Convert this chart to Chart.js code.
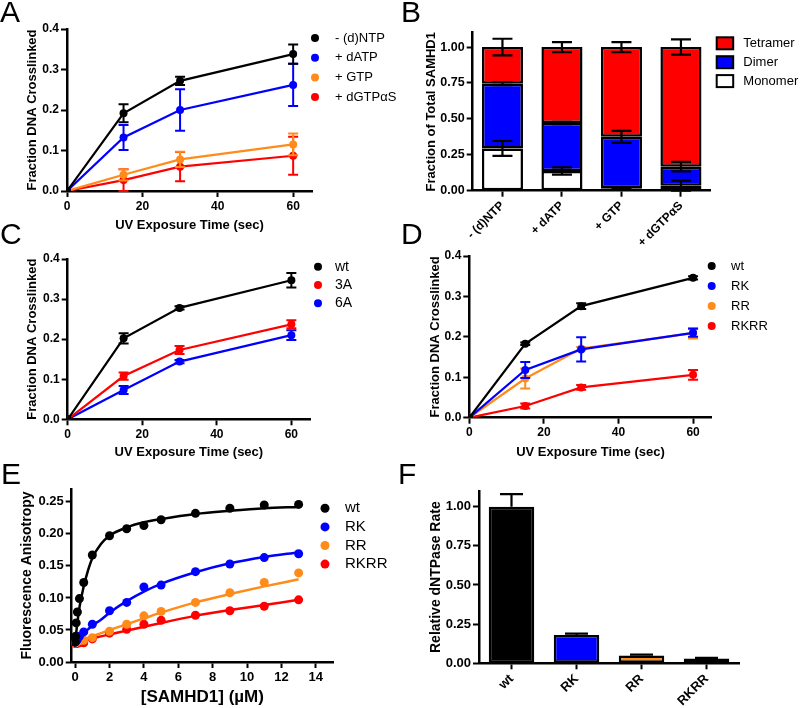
<!DOCTYPE html>
<html>
<head>
<meta charset="utf-8">
<script src="https://cdn.jsdelivr.net/npm/chart.js@4.4.0/dist/chart.umd.min.js"></script>
<style>
    body { margin: 0; background: #fff; }
    #figure { position: relative; width: 800px; height: 708px; overflow: hidden; background: #fff; }
    #figure canvas { position: absolute; }
    .panel-letter { position: absolute; font-family: 'Liberation Sans', Arial, sans-serif; font-size: 30px; line-height: 30px; color: #000; }
</style>
</head>
<body>
<div id="figure">
    <canvas id="chart-a"></canvas>
    <canvas id="chart-b"></canvas>
    <canvas id="chart-c"></canvas>
    <canvas id="chart-d"></canvas>
    <canvas id="chart-e"></canvas>
    <canvas id="chart-f"></canvas>
    <div class="panel-letter" style="left:0px;top:-3px">A</div>
    <div class="panel-letter" style="left:401px;top:-3px">B</div>
    <div class="panel-letter" style="left:0px;top:219px">C</div>
    <div class="panel-letter" style="left:401px;top:219px">D</div>
    <div class="panel-letter" style="left:1px;top:459px">E</div>
    <div class="panel-letter" style="left:398px;top:459px">F</div>
</div>
<script>
// ---- Data ----
const uvTimes = [0, 15, 30, 60];
const uvTicks = [0, 20, 40, 60];
const crosslinkTicks = [0, 0.1, 0.2, 0.3, 0.4];
const fractionTicks = [0, 0.25, 0.5, 0.75, 1];

// A: nucleotide effect on crosslinking
const ntpLabels = ['- (d)NTP', '+ dATP', '+ GTP', '+ dGTPαS'];
const aNoNtp = [0, 0.192, 0.272, 0.338];
const aNoNtpErr = [0, 0.022, 0.01, 0.024];
const aDatp = [0, 0.132, 0.2, 0.262];
const aDatpErr = [0, 0.031, 0.051, 0.052];
const aGtp = [0, 0.04, 0.078, 0.115];
const aGtpErr = [0, 0.014, 0.019, 0.027];
const aDgtp = [0, 0.027, 0.06, 0.087];
const aDgtpErr = [0, 0.027, 0.036, 0.047];

// B: oligomeric state
const bMonomer = [0.294, 0.137, 0.017, 0.035];
const bMonomerErr = [0.052, 0.025, 0.003, 0.035];
const bDimer = [0.451, 0.335, 0.358, 0.132];
const bDimerErr = [0.01, 0.008, 0.042, 0.033];
const bTetramer = [0.255, 0.528, 0.625, 0.833];
const bTetramerErr = [0.058, 0.035, 0.035, 0.053];

// C: wt vs 3A / 6A
const cLabels = ['wt', '3A', '6A'];
const cWt = [0, 0.202, 0.278, 0.347];
const cWtErr = [0, 0.013, 0.004, 0.018];
const c3A = [0, 0.108, 0.173, 0.237];
const c3AErr = [0, 0.009, 0.01, 0.01];
const c6A = [0, 0.073, 0.144, 0.21];
const c6AErr = [0, 0.01, 0.004, 0.012];

// D: wt vs RK / RR / RKRR
const mutantLabels = ['wt', 'RK', 'RR', 'RKRR'];
const dWt = [0, 0.183, 0.276, 0.346];
const dWtErr = [0, 0.003, 0.007, 0.004];
const dRK = [0, 0.118, 0.169, 0.21];
const dRKErr = [0, 0.02, 0.03, 0.01];
const dRR = [0, 0.097, 0.171, 0.209];
const dRRErr = [0, 0.025, 0.004, 0.013];
const dRKRR = [0, 0.029, 0.075, 0.106];
const dRKRRErr = [0, 0.006, 0.006, 0.012];

// E: anisotropy titration
const samhd1Conc = [0, 0.03, 0.06, 0.13, 0.25, 0.5, 1, 2, 3, 4, 5, 7, 9, 11, 13];
const eWt = [0.031, 0.040, 0.061, 0.078, 0.099, 0.124, 0.167, 0.197, 0.208, 0.213, 0.222, 0.232, 0.240, 0.245, 0.246];
const eRK = [0.031, 0.032, 0.033, 0.035, 0.040, 0.047, 0.059, 0.080, 0.093, 0.117, 0.120, 0.141, 0.153, 0.163, 0.169];
const eRR = [0.030, 0.030, 0.031, 0.032, 0.033, 0.034, 0.038, 0.048, 0.059, 0.072, 0.079, 0.093, 0.108, 0.124, 0.139];
const eRKRR = [0.029, 0.029, 0.029, 0.029, 0.030, 0.030, 0.036, 0.045, 0.051, 0.059, 0.065, 0.073, 0.080, 0.087, 0.097];
// fitted curves
const fitConc = [0, 0.25, 0.5, 0.75, 1, 1.5, 2, 3, 4, 5, 7, 9, 11, 13];
const eWtFit = [0.032, 0.085, 0.118, 0.143, 0.162, 0.184, 0.197, 0.210, 0.218, 0.223, 0.231, 0.236, 0.240, 0.242];
const eRKFit = [0.032, 0.039, 0.045, 0.051, 0.057, 0.066, 0.077, 0.095, 0.110, 0.122, 0.140, 0.154, 0.164, 0.171];
const eRRFit = [0.030, 0.033, 0.035, 0.038, 0.040, 0.045, 0.050, 0.059, 0.068, 0.077, 0.093, 0.106, 0.118, 0.129];
const eRKRRFit = [0.029, 0.031, 0.033, 0.035, 0.037, 0.040, 0.043, 0.049, 0.055, 0.061, 0.072, 0.081, 0.089, 0.097];
const concTicks = [0, 2, 4, 6, 8, 10, 12, 14];
const anisoTicks = [0, 0.05, 0.1, 0.15, 0.2, 0.25];

// F: dNTPase activity
const fRate = [1.0, 0.18, 0.05, 0.03];
const fRateErr = [0.08, 0.01, 0.005, 0.004];

const BLACK = '#000000';
const BLUE = '#0000ff';
const ORANGE = '#ff8c1a';
const RED = '#ff0000';
const FONT = "'Liberation Sans', Arial, sans-serif";

Chart.defaults.font.family = FONT;
Chart.defaults.color = '#000';

// error bars drawn right after each dataset
const errorBarPlugin = {
    id: 'errorBars',
    afterDatasetDraw(chart, args, opts) {
        const ds = chart.data.datasets[args.index];
        if (!ds.errors) return;
        const ctx = chart.ctx;
        const yScale = chart.scales.y;
        const half = (opts.capWidth || 10) / 2;
        ctx.save();
        ctx.strokeStyle = opts.color || ds.borderColor;
        ctx.lineWidth = opts.lineWidth || 2;
        args.meta.data.forEach((el, i) => {
            const err = ds.errors[i];
            if (!err) return;
            const errPx = yScale.getPixelForValue(0) - yScale.getPixelForValue(err);
            const top = el.y - errPx;
            const bottom = opts.upOnly ? el.y : el.y + errPx;
            ctx.beginPath();
            ctx.moveTo(el.x, top);
            ctx.lineTo(el.x, bottom);
            ctx.moveTo(el.x - half, top);
            ctx.lineTo(el.x + half, top);
            if (!opts.upOnly) {
                ctx.moveTo(el.x - half, bottom);
                ctx.lineTo(el.x + half, bottom);
            }
            ctx.stroke();
        });
        ctx.restore();
    }
};

// GraphPad-like legend on the right
const sideLegendPlugin = {
    id: 'sideLegend',
    afterDraw(chart, args, opts) {
        if (!opts.labels) return;
        const ctx = chart.ctx;
        ctx.save();
        ctx.font = opts.fontSize + 'px ' + FONT;
        ctx.textBaseline = 'middle';
        opts.labels.forEach((label, i) => {
            const y = opts.y + i * opts.gap;
            if (opts.boxes) {
                ctx.fillStyle = opts.colors[i];
                ctx.fillRect(opts.x, y - 6, 16.5, 12);
                ctx.strokeStyle = '#000';
                ctx.lineWidth = 2;
                ctx.strokeRect(opts.x, y - 6, 16.5, 12);
            } else {
                ctx.fillStyle = opts.colors[i];
                ctx.beginPath();
                ctx.arc(opts.x, y, opts.radius || 4, 0, Math.PI * 2);
                ctx.fill();
            }
            ctx.fillStyle = '#000';
            ctx.fillText(label, opts.textX, y);
        });
        ctx.restore();
    }
};

function frame(rect, plot, yTitleX, yTitleSize) {
    const padLeft = yTitleX - yTitleSize * 0.6 - rect.left;
    return {
        padding: { left: padLeft, top: plot.top - rect.top, right: rect.left + rect.width - plot.right, bottom: 0 },
        yWidth: plot.left - rect.left - padLeft,
        xHeight: rect.top + rect.height - plot.bottom
    };
}

function axis(o) {
    const scale = {
        type: o.type || 'linear',
        border: { display: true, color: '#000', width: 2.5 },
        grid: { drawOnChartArea: false, tickLength: 6, tickWidth: 2, tickColor: '#000', offset: false },
        ticks: { color: '#000', padding: 2, font: { size: o.tickSize, weight: 'bold' } },
        title: { display: !!o.title, text: o.title, color: '#000', padding: 0, font: { size: o.titleSize, weight: 'bold' } },
        afterFit: s => {
            if (o.width) s.width = o.width;
            if (o.height) s.height = o.height;
        }
    };
    if (scale.type === 'linear') {
        scale.min = o.min;
        scale.max = o.max;
        scale.afterBuildTicks = s => { s.ticks = o.ticks.map(v => ({ value: v })); };
        scale.ticks.callback = v => o.decimals ? v.toFixed(o.decimals) : String(v);
    } else {
        scale.offset = true;
        scale.ticks.minRotation = 45;
        scale.ticks.maxRotation = 45;
        scale.ticks.autoSkip = false;
    }
    if (o.stacked) scale.stacked = true;
    return scale;
}

function lineSet(label, xs, ys, errs, color, radius) {
    return {
        label: label,
        data: xs.map((x, i) => ({ x: x, y: ys[i] })),
        errors: errs,
        borderColor: color,
        backgroundColor: color,
        borderWidth: 2.2,
        pointRadius: radius,
        pointBorderWidth: 0,
        pointBackgroundColor: color,
        tension: 0
    };
}

function makeChart(id, rect, cfg) {
    const canvas = document.getElementById(id);
    canvas.width = rect.width;
    canvas.height = rect.height;
    canvas.style.left = rect.left + 'px';
    canvas.style.top = rect.top + 'px';
    cfg.options.responsive = false;
    cfg.options.animation = false;
    cfg.options.events = [];
    cfg.plugins = [errorBarPlugin, sideLegendPlugin];
    return new Chart(canvas.getContext('2d'), cfg);
}

function uvChart(id, rect, plot, yTitleX, datasets, legend) {
    const f = frame(rect, plot, yTitleX, 13);
    return makeChart(id, rect, {
        type: 'line',
        data: { datasets: datasets },
        options: {
            layout: { padding: f.padding },
            plugins: {
                legend: { display: false },
                tooltip: { enabled: false },
                errorBars: { capWidth: 10, lineWidth: 2 },
                sideLegend: legend
            },
            scales: {
                x: axis({ min: 0, max: 65, ticks: uvTicks, tickSize: 12, title: 'UV Exposure Time (sec)', titleSize: 13, height: f.xHeight }),
                y: axis({ min: 0, max: 0.4, ticks: crosslinkTicks, decimals: 1, tickSize: 12, title: 'Fraction DNA Crosslinked', titleSize: 13, width: f.yWidth })
            }
        }
    });
}

// ---- Panel A ----
uvChart('chart-a', { left: 0, top: 0, width: 400, height: 233 }, { left: 67, top: 29, right: 312, bottom: 191 }, 32, [
    lineSet(ntpLabels[0], uvTimes, aNoNtp, aNoNtpErr, BLACK, 4),
    lineSet(ntpLabels[1], uvTimes, aDatp, aDatpErr, BLUE, 4),
    lineSet(ntpLabels[2], uvTimes, aGtp, aGtpErr, ORANGE, 4),
    lineSet(ntpLabels[3], uvTimes, aDgtp, aDgtpErr, RED, 4)
], { labels: ntpLabels, colors: [BLACK, BLUE, ORANGE, RED], x: 315, textX: 335, y: 38, gap: 19.7, fontSize: 13 });

// ---- Panel C ----
uvChart('chart-c', { left: 0, top: 233, width: 400, height: 227 }, { left: 67.7, top: 259, right: 310, bottom: 419.3 }, 32.5, [
    lineSet(cLabels[0], uvTimes, cWt, cWtErr, BLACK, 4),
    lineSet(cLabels[1], uvTimes, c3A, c3AErr, RED, 4),
    lineSet(cLabels[2], uvTimes, c6A, c6AErr, BLUE, 4)
], { labels: cLabels, colors: [BLACK, RED, BLUE], x: 318, textX: 335, y: 33.7, gap: 18.3, fontSize: 14 });

// ---- Panel D ----
uvChart('chart-d', { left: 400, top: 233, width: 400, height: 227 }, { left: 469.3, top: 256, right: 711.7, bottom: 417.7 }, 435, [
    lineSet(mutantLabels[0], uvTimes, dWt, dWtErr, BLACK, 4),
    lineSet(mutantLabels[1], uvTimes, dRK, dRKErr, BLUE, 4),
    lineSet(mutantLabels[2], uvTimes, dRR, dRRErr, ORANGE, 4),
    lineSet(mutantLabels[3], uvTimes, dRKRR, dRKRRErr, RED, 4)
], { labels: mutantLabels, colors: [BLACK, BLUE, ORANGE, RED], x: 311.7, textX: 331, y: 33, gap: 20, fontSize: 13 });

// ---- Panel B ----
(function() {
    const rect = { left: 400, top: 0, width: 400, height: 252 };
    const f = frame(rect, { left: 472.7, top: 32.7, right: 710.7, bottom: 190.7 }, 431.7, 13);
    const barStyle = { borderColor: '#000', borderWidth: 2.5, borderSkipped: false, barPercentage: 0.69, categoryPercentage: 1 };
    makeChart('chart-b', rect, {
        type: 'bar',
        data: {
            labels: ntpLabels,
            datasets: [
                Object.assign({ label: 'Monomer', data: bMonomer, errors: bMonomerErr, backgroundColor: '#ffffff' }, barStyle),
                Object.assign({ label: 'Dimer', data: bDimer, errors: bDimerErr, backgroundColor: BLUE }, barStyle),
                Object.assign({ label: 'Tetramer', data: bTetramer, errors: bTetramerErr, backgroundColor: RED }, barStyle)
            ]
        },
        options: {
            layout: { padding: f.padding },
            plugins: {
                legend: { display: false },
                tooltip: { enabled: false },
                errorBars: { capWidth: 20, lineWidth: 2.2, color: '#000' },
                sideLegend: { labels: ['Tetramer', 'Dimer', 'Monomer'], colors: [RED, BLUE, '#ffffff'], boxes: true, x: 316.7, textX: 343.3, y: 43.3, gap: 18.9, fontSize: 13 }
            },
            scales: {
                x: axis({ type: 'category', stacked: true, tickSize: 12, height: f.xHeight }),
                y: axis({ min: 0, max: 1.1, ticks: fractionTicks, decimals: 2, stacked: true, tickSize: 12.5, title: 'Fraction of Total SAMHD1', titleSize: 13, width: f.yWidth })
            }
        }
    });
})();

// ---- Panel E ----
(function() {
    const rect = { left: 0, top: 460, width: 400, height: 248 };
    const f = frame(rect, { left: 71.7, top: 489, right: 333, bottom: 662 }, 27.5, 14);
    const points = (label, ys, color) => Object.assign(lineSet(label, samhd1Conc, ys, null, color, 4.5), { showLine: false });
    const fit = (label, ys, color) => Object.assign(lineSet(label, fitConc, ys, null, color, 0), { cubicInterpolationMode: 'monotone', borderWidth: 2.5 });
    makeChart('chart-e', rect, {
        type: 'line',
        data: {
            datasets: [
                points('wt', eWt, BLACK),
                points('RK', eRK, BLUE),
                points('RR', eRR, ORANGE),
                points('RKRR', eRKRR, RED),
                fit('wt fit', eWtFit, BLACK),
                fit('RK fit', eRKFit, BLUE),
                fit('RR fit', eRRFit, ORANGE),
                fit('RKRR fit', eRKRRFit, RED)
            ]
        },
        options: {
            layout: { padding: f.padding },
            plugins: {
                legend: { display: false },
                tooltip: { enabled: false },
                sideLegend: { labels: mutantLabels, colors: [BLACK, BLUE, ORANGE, RED], x: 325, textX: 345, y: 48.3, gap: 18.6, fontSize: 15, radius: 4.5 }
            },
            scales: {
                x: axis({ min: -0.2, max: 15, ticks: concTicks, tickSize: 13, title: '[SAMHD1] (µM)', titleSize: 17, height: f.xHeight }),
                y: axis({ min: 0, max: 0.27, ticks: anisoTicks, decimals: 2, tickSize: 13, title: 'Fluorescence Anisotropy', titleSize: 14, width: f.yWidth })
            }
        }
    });
})();

// ---- Panel F ----
(function() {
    const rect = { left: 400, top: 460, width: 400, height: 248 };
    const f = frame(rect, { left: 479, top: 491, right: 739, bottom: 663.3 }, 436, 14);
    makeChart('chart-f', rect, {
        type: 'bar',
        data: {
            labels: mutantLabels,
            datasets: [{
                label: 'Relative dNTPase Rate',
                data: fRate,
                errors: fRateErr,
                backgroundColor: [BLACK, BLUE, ORANGE, RED],
                borderColor: '#000',
                borderWidth: 2.5,
                borderSkipped: false,
                barPercentage: 0.7,
                categoryPercentage: 1
            }]
        },
        options: {
            layout: { padding: f.padding },
            plugins: {
                legend: { display: false },
                tooltip: { enabled: false },
                errorBars: { capWidth: 23, lineWidth: 2.2, color: '#000', upOnly: true }
            },
            scales: {
                x: axis({ type: 'category', tickSize: 13, height: f.xHeight }),
                y: axis({ min: 0, max: 1.1, ticks: fractionTicks, decimals: 2, tickSize: 13, title: 'Relative dNTPase Rate', titleSize: 14, width: f.yWidth })
            }
        }
    });
})();
</script>
</body>
</html>
